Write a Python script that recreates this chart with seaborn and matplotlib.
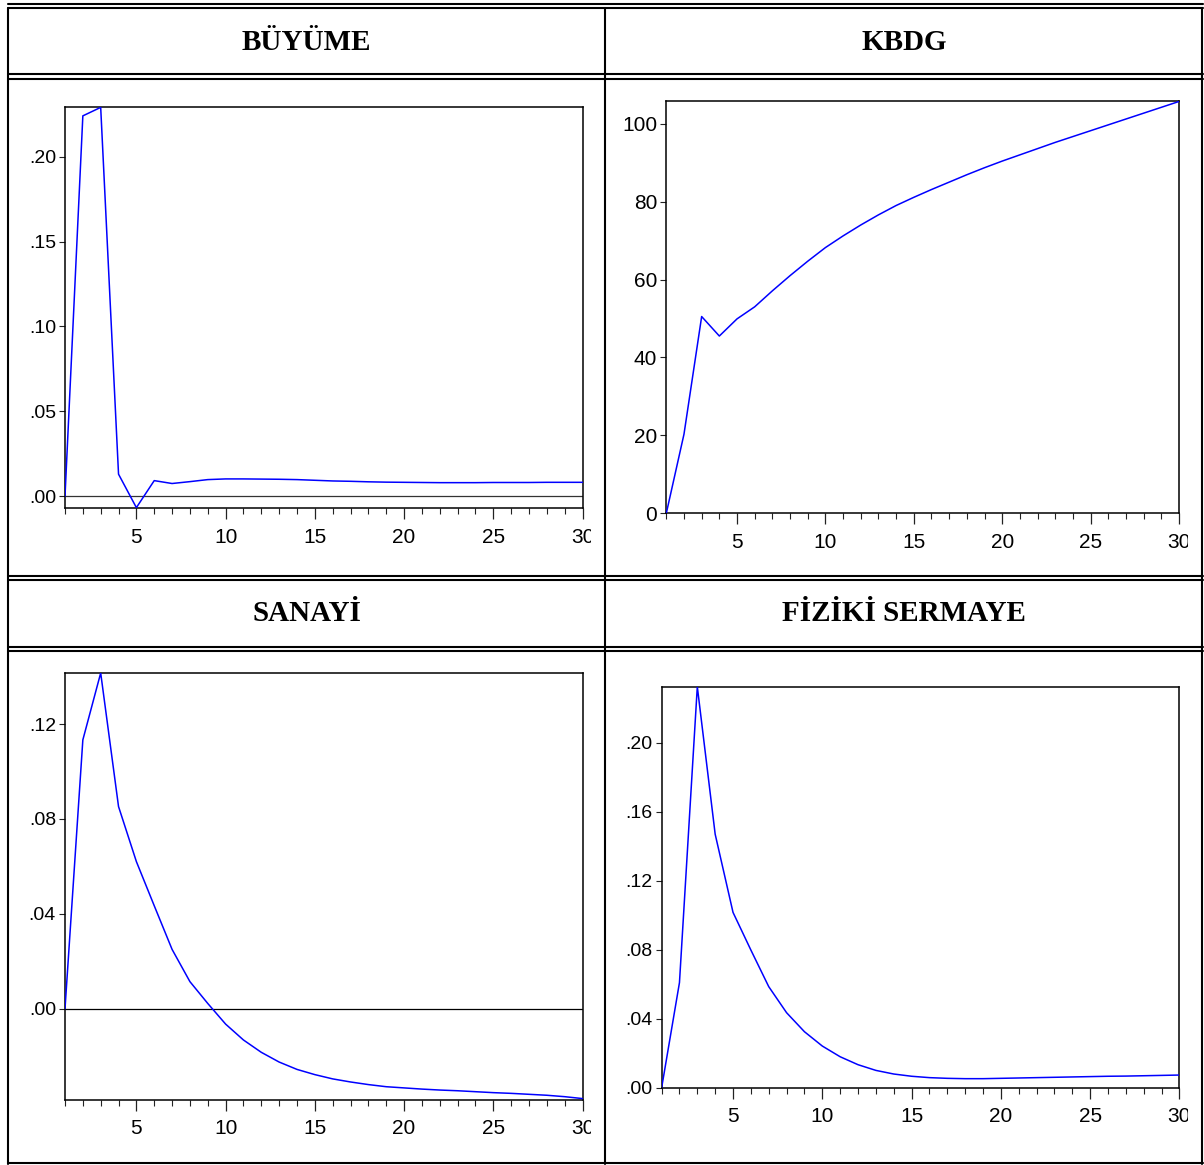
import numpy as np
import pandas as pd
import seaborn as sns
import matplotlib
matplotlib.use('Agg')
import matplotlib.pyplot as plt
from matplotlib.lines import Line2D
from matplotlib.ticker import FuncFormatter
from matplotlib.transforms import Bbox, TransformedBbox
from matplotlib import font_manager

# dönem (1..30)
periods = list(range(1, 31))

# BÜYÜME
buyume = [0.0, 0.224, 0.229, 0.013, -0.0067, 0.0092, 0.0075, 0.0086, 0.0098, 0.0102,
          0.0102, 0.0101, 0.0100, 0.0098, 0.0094, 0.0090, 0.0088, 0.0085, 0.0083, 0.0082,
          0.0081, 0.0080, 0.0080, 0.0080, 0.0081, 0.0081, 0.0081, 0.0082, 0.0082, 0.0082]

# KBDG
kbdg = [0.0, 20.3, 50.5, 45.5, 49.9, 53.0, 57.1, 61.0, 64.7, 68.2,
        71.2, 74.0, 76.6, 79.0, 81.1, 83.1, 85.0, 86.9, 88.7, 90.4,
        92.0, 93.6, 95.2, 96.7, 98.2, 99.7, 101.2, 102.7, 104.2, 105.7]

# SANAYİ
sanayi = [0.0, 0.1133, 0.1415, 0.0852, 0.0620, 0.0434, 0.0250, 0.0114, 0.0022, -0.0065,
          -0.0132, -0.0184, -0.0225, -0.0256, -0.0278, -0.0296, -0.0309, -0.0320, -0.0329, -0.0334,
          -0.0339, -0.0343, -0.0346, -0.0350, -0.0354, -0.0357, -0.0361, -0.0365, -0.0371, -0.0379]

# FİZİKİ SERMAYE
fiziki = [0.0, 0.061, 0.2324, 0.147, 0.1017, 0.0799, 0.0587, 0.0436, 0.0326, 0.0243,
          0.0181, 0.0135, 0.0102, 0.0081, 0.0068, 0.0060, 0.0056, 0.0054, 0.0054, 0.0056,
          0.0058, 0.0060, 0.0062, 0.0064, 0.0066, 0.0068, 0.0069, 0.0071, 0.0073, 0.0075]

titles = ['BÜYÜME', 'KBDG', 'SANAYİ', 'FİZİKİ SERMAYE']
ylims = [(-0.0071, 0.2294), (0, 105.9), (-0.0385, 0.1415), (0, 0.2324)]
yticks = [[0.0, 0.05, 0.10, 0.15, 0.20], [0, 20, 40, 60, 80, 100],
          [0.0, 0.04, 0.08, 0.12], [0.0, 0.04, 0.08, 0.12, 0.16, 0.20]]
series = [buyume, kbdg, sanayi, fiziki]

sns.set_style('white')
names = {f.name for f in font_manager.fontManager.ttflist}
tick_font = 'Liberation Sans Narrow' if 'Liberation Sans Narrow' in names else 'Liberation Sans'
plt.rcParams['font.family'] = [tick_font, 'DejaVu Sans']
plt.rcParams['text.color'] = 'black'
plt.rcParams['xtick.color'] = 'black'
plt.rcParams['ytick.color'] = 'black'

W, H = 1204, 1165
fig = plt.figure(figsize=(W / 100, H / 100), dpi=100)
fig.patch.set_facecolor('white')

# tablo çizgileri (piksel)
def hline(y, x0=7.5, x1=1202.5, lw=1.5):
    fig.add_artist(Line2D([x0 / W, x1 / W], [1 - y / H, 1 - y / H],
                          transform=fig.transFigure, color='black', lw=lw))

def vline(x, y0=7.5, y1=1163.5, lw=1.5):
    fig.add_artist(Line2D([x / W, x / W], [1 - y0 / H, 1 - y1 / H],
                          transform=fig.transFigure, color='black', lw=lw))

for y in [3.5, 7.5, 74, 79, 576, 579.5, 647, 651, 1163]:
    hline(y)
for x in [7.5, 605, 1202]:
    vline(x)

# başlıklar
head_pos = [(306.5, 42), (904, 42), (306.5, 614), (904, 614)]
for (hx, hy), t in zip(head_pos, titles):
    fig.text(hx / W, 1 - hy / H, t, ha='center', va='center', color='black',
             family=['Liberation Serif', 'DejaVu Serif'], weight='bold', size=21)

# eksen konumları: left, right, top, bottom (piksel)
boxes = [(65, 582.5, 106.7, 508.3), (666.3, 1179, 100.7, 513.3),
         (65, 582.5, 673, 1100), (661.6, 1179.4, 686.7, 1088)]
clips = [591, 1188, 591, 1188]

def dotfmt(v, pos):
    s = '%.2f' % v
    return s.replace('0.', '.', 1) if abs(v) < 1 else s

for i in range(4):
    l, r, t, b = boxes[i]
    ax = fig.add_axes([l / W, 1 - b / H, (r - l) / W, (b - t) / H])
    df = pd.DataFrame({'period': periods, 'value': series[i]})
    if i in (0, 2):
        ax.axhline(0, color='#333333' if i == 0 else 'black', lw=0.9, zorder=1)
    sns.lineplot(data=df, x='period', y='value', ax=ax, color='#0000ff', lw=1.1, zorder=3)
    ax.set_xlim(1, 30)
    ax.set_ylim(*ylims[i])
    ax.set_xlabel('')
    ax.set_ylabel('')
    ax.set_xticks([5, 10, 15, 20, 25, 30])
    ax.set_xticks(periods, minor=True)
    ax.set_yticks(yticks[i])
    if i == 1:
        ax.yaxis.set_major_formatter(FuncFormatter(lambda v, p: '%d' % v))
    else:
        ax.yaxis.set_major_formatter(FuncFormatter(dotfmt))
    for sp in ax.spines.values():
        sp.set_visible(True)
        sp.set_color('black')
        sp.set_linewidth(1.1)
    ax.tick_params(axis='x', which='major', direction='out', length=8, width=0.9,
                   labelsize=15, pad=6, bottom=True, color='#222222', labelcolor='black')
    ax.tick_params(axis='x', which='minor', direction='out', length=4.5, width=0.8,
                   bottom=True, color='#222222')
    ax.tick_params(axis='y', which='major', direction='out', length=4.5, width=0.8,
                   labelsize=15 if i == 1 else 14, pad=2, left=True, color='#222222',
                   labelcolor='black')
    ax.grid(False)
    cb = TransformedBbox(Bbox([[0, 0], [clips[i] / W, 1]]), fig.transFigure)
    for lab in ax.get_xticklabels():
        lab.set_clip_box(cb)
        lab.set_clip_on(True)

fig.savefig('out.png', dpi=100, facecolor='white')
